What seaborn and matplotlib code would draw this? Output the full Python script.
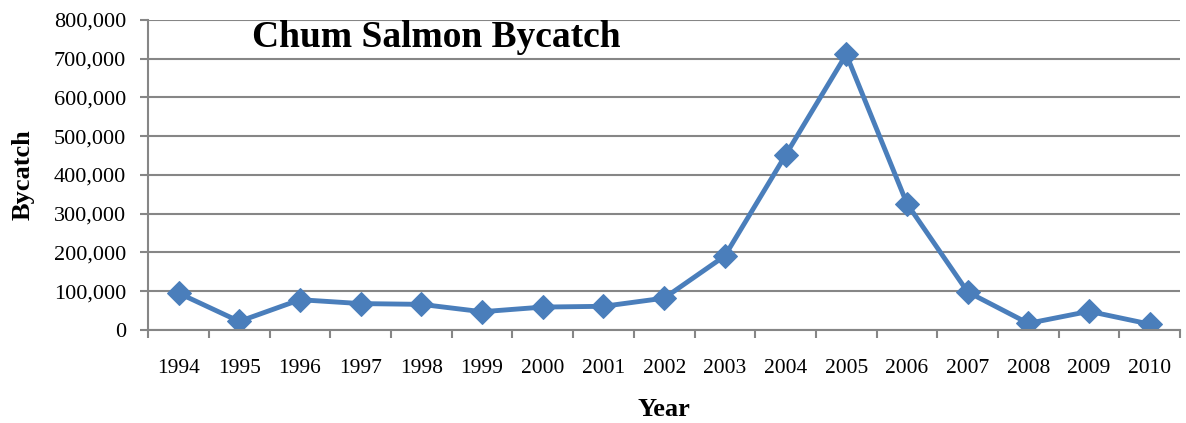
#!/usr/bin/env python3
import numpy as np
import pandas as pd
import matplotlib as mpl
mpl.use('Agg')
import matplotlib.pyplot as plt
import seaborn as sns
from matplotlib.ticker import FuncFormatter, FixedLocator

years = ['1994', '1995', '1996', '1997', '1998', '1999', '2000', '2001', '2002',
         '2003', '2004', '2005', '2006', '2007', '2008', '2009', '2010']
bycatch = [95000, 22000, 78000, 68000, 66000, 47000, 59000, 61000, 82000,
           191000, 451000, 711000, 326000, 98000, 17000, 48000, 15000]

sns.set_theme(style='white')
plt.rcParams['font.family'] = ['Liberation Serif', 'DejaVu Serif']
plt.rcParams['text.color'] = 'black'
plt.rcParams['axes.labelcolor'] = 'black'
plt.rcParams['xtick.labelcolor'] = 'black'
plt.rcParams['ytick.labelcolor'] = 'black'

df = pd.DataFrame({'pos': np.arange(len(years)), 'year': years, 'bycatch': bycatch})

fig = plt.figure(figsize=(11.86, 4.23), dpi=100)
ax = fig.add_axes([0.125, 0.22, 0.87, 0.733])

line_col = '#4a7ebb'
grid_col = '#868686'
sns.lineplot(data=df, x='pos', y='bycatch', ax=ax, color=line_col, linewidth=3.5,
             marker='D', markersize=12, markeredgecolor=line_col)

ax.set_xlim(-0.5, len(years) - 0.5)
ax.set_ylim(0, 800000)
ax.set_yticks(np.arange(0, 800001, 100000))
ax.yaxis.set_major_formatter(FuncFormatter(lambda v, p: f'{int(v):,}'))
ax.yaxis.grid(True, color=grid_col, linewidth=1.5)
ax.set_axisbelow(True)

ax.set_xticks(df['pos'])
ax.set_xticklabels(years)
ax.xaxis.set_minor_locator(FixedLocator(np.arange(-0.5, len(years), 1.0)))
ax.tick_params(axis='x', which='major', length=0, pad=21, labelsize=15.5)
ax.tick_params(axis='x', which='minor', length=6, width=1.5, color=grid_col, direction='out', bottom=True)
ax.tick_params(axis='y', which='major', length=6, width=1.5, color=grid_col, direction='out', left=True, labelsize=16, pad=10)

for s in ['top', 'right']:
    ax.spines[s].set_visible(False)
for s in ['left', 'bottom']:
    ax.spines[s].set_color(grid_col)
    ax.spines[s].set_linewidth(1.5)

ax.set_xlabel('Year', fontsize=19, fontweight='bold', labelpad=14)
ax.set_ylabel('Bycatch', fontsize=19, fontweight='bold', labelpad=14)
ax.text(0.101, 0.942, 'Chum Salmon Bycatch', transform=ax.transAxes, fontsize=27,
        fontweight='bold', ha='left', va='center')

fig.savefig('out.png', dpi=100)
